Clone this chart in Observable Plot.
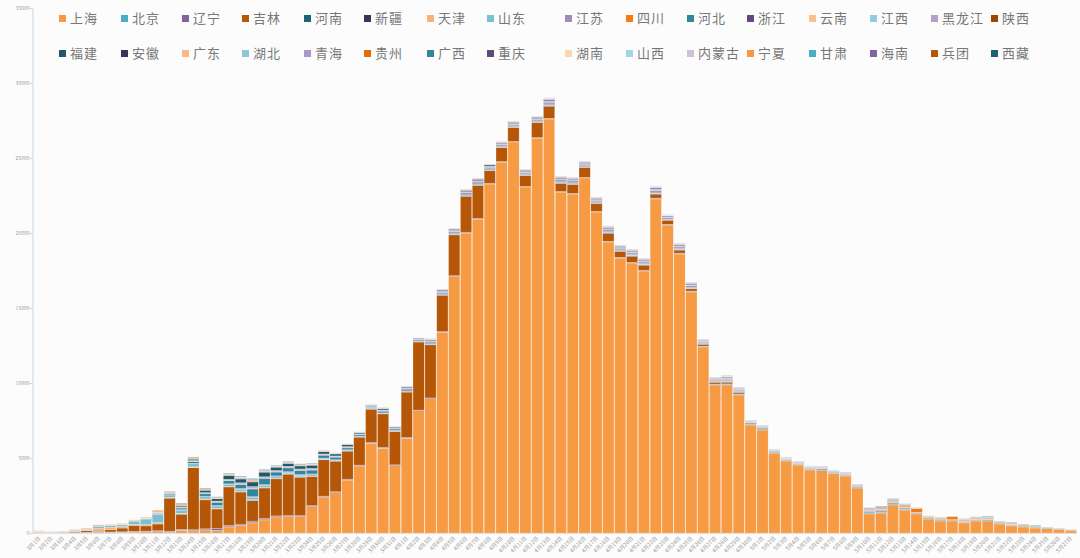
<!DOCTYPE html>
<html><head><meta charset="utf-8">
<script src="https://cdn.jsdelivr.net/npm/d3@7"></script>
<script src="https://cdn.jsdelivr.net/npm/@observablehq/plot@0.6"></script>
<style>
body{margin:0;background:#fcfcfc;}
#wrap{position:relative;width:1080px;height:558px;overflow:hidden;}
#legend{position:absolute;left:0;top:0;width:1080px;height:70px;font-family:"Noto Sans CJK SC",sans-serif;font-size:13px;color:#777;}
.item{position:absolute;display:flex;align-items:center;white-space:nowrap;height:18px;line-height:18px;letter-spacing:1px;}
.sw{width:7px;height:7px;margin-right:4px;flex:none;}
</style></head><body><div id="wrap"><div id="chart"></div><div id="legend"></div></div>
<script>
const dates = [
"3月1日","3月2日","3月3日","3月4日","3月5日","3月6日","3月7日","3月8日","3月9日","3月10日",
"3月11日","3月12日","3月13日","3月14日","3月15日","3月16日","3月17日","3月18日","3月19日","3月20日",
"3月21日","3月22日","3月23日","3月24日","3月25日","3月26日","3月27日","3月28日","3月29日","3月30日",
"3月31日","4月1日","4月2日","4月3日","4月4日","4月5日","4月6日","4月7日","4月8日","4月9日",
"4月10日","4月11日","4月12日","4月13日","4月14日","4月15日","4月16日","4月17日","4月18日","4月19日",
"4月20日","4月21日","4月22日","4月23日","4月24日","4月25日","4月26日","4月27日","4月28日","4月29日",
"4月30日","5月1日","5月2日","5月3日","5月4日","5月5日","5月6日","5月7日","5月8日","5月9日",
"5月10日","5月11日","5月12日","5月13日","5月14日","5月15日","5月16日","5月17日","5月18日","5月19日",
"5月20日","5月21日","5月22日","5月23日","5月24日","5月25日","5月26日","5月27日"];

const provinces = ["上海","北京","辽宁","吉林","河南","新疆","天津","山东","江苏","四川","河北","浙江","云南","江西","黑龙江","陕西",
"福建","安徽","广东","湖北","青海","贵州","广西","重庆","湖南","山西","内蒙古","宁夏","甘肃","海南","兵团","西藏"];
const colors = ["#F79A44","#4BACC6","#8064A2","#B65708","#1F6377","#403152","#FAB07B","#78C0D4","#9F8CB8","#F67A12","#31859C","#604A7B","#FAC090","#92CDDC","#B2A2C7","#974806",
"#215968","#3F3151","#FBB885","#8BC8DA","#AC98C8","#E46C0A","#31859C","#5F497A","#FCD5B5","#A5D5E2","#CCC1DA","#F79646","#4BACC6","#8064A2","#B65708","#1F6377"];

const shanghai = [
5,5,5,10,10,20,30,40,60,75,
80,65,170,140,200,160,400,490,670,870,
1070,1090,1090,1750,2400,2690,3530,4470,5980,5650,
4490,6310,8150,8950,13380,17100,20000,20930,23270,24730,
26070,23070,26330,27600,22730,22600,23670,21400,19400,18330,
18000,17470,22270,20530,18600,16070,12400,9870,9870,9200,
7200,6870,5300,4800,4530,4200,4150,3950,3800,3000,
1270,1330,1870,1530,1270,930,800,800,670,800,
800,600,470,400,330,300,250,180];
const beijing = [
10,5,10,10,20,20,20,20,20,20,
20,20,20,20,20,20,20,20,20,20,
10,10,10,10,10,10,10,10,5,10,
5,5,5,5,5,5,5,5,5,5,
5,5,5,10,10,10,10,10,15,15,
20,20,30,30,30,40,40,40,50,50,
50,60,60,50,50,50,60,50,50,60,
60,60,60,60,30,50,50,50,50,40,
60,40,50,40,40,30,20,20];
const liaoning = [
10,5,10,15,20,20,20,20,25,30,
50,40,60,60,60,120,80,80,100,80,
60,60,70,70,50,50,50,50,50,60,
50,60,40,50,50,50,50,50,40,30,
30,30,30,40,30,30,30,30,30,30,
30,30,30,20,30,20,20,20,20,20,
10,10,10,10,10,10,10,10,10,10,
10,10,10,10,10,0,0,0,10,10,
0,10,10,0,0,0,0,0];
const jilin = [
10,10,20,60,100,60,150,250,400,350,
450,2200,1000,4130,1930,1300,2570,2140,1360,2030,
2470,2760,2550,1930,2420,2040,1870,1860,2220,2220,
2230,3020,4540,3540,2420,2720,2400,2200,860,940,
930,730,1000,800,540,600,660,530,530,400,
400,330,260,270,200,150,100,100,100,80,
50,40,30,20,20,20,10,10,10,10,
10,10,10,10,0,0,0,0,0,0,
0,0,0,0,0,0,0,0];
const henan = [
0,0,0,0,0,0,0,0,0,0,
10,10,20,20,20,20,20,40,40,30,
30,20,20,20,10,10,10,10,10,10,
10,10,5,10,10,10,10,10,10,10,
20,20,20,30,20,20,20,20,30,20,
30,30,30,20,30,30,30,30,40,40,
40,40,40,30,30,40,40,30,30,30,
40,50,50,40,30,30,20,20,20,20,
20,20,20,20,20,10,10,10];
const xinjiang = [
0,0,0,0,0,0,0,0,0,0,
0,0,0,0,0,0,0,0,0,0,
0,0,0,0,0,0,0,0,0,0,
0,0,0,0,0,0,0,0,0,0,
0,0,0,0,0,0,0,0,0,0,
10,10,10,10,10,10,10,10,10,10,
10,10,0,0,0,0,10,10,10,10,
40,40,20,20,10,0,0,0,10,10,
0,0,0,0,0,0,0,0];
const tianjin = [
40,20,30,40,40,180,150,100,60,80,
80,50,50,40,40,30,30,30,30,30,
20,20,20,20,10,10,10,10,10,10,
5,5,5,5,5,5,5,5,5,5,
5,5,5,10,10,10,10,10,10,10,
10,10,10,10,10,10,10,10,20,10,
10,10,10,10,10,10,20,10,20,20,
50,70,80,60,10,20,20,10,20,30,
40,20,30,20,20,10,10,10];
const shandong = [
30,20,20,40,60,120,110,110,200,330,
550,150,200,200,150,150,120,120,150,120,
100,80,80,80,50,40,30,20,20,20,
20,20,20,20,20,20,20,20,20,20,
20,20,20,20,20,20,20,20,20,20,
20,20,20,10,10,10,10,10,10,10,
0,0,0,0,0,0,0,0,0,0,
0,0,0,0,0,0,0,0,0,0,
0,0,0,0,0,0,0,0];
const jiangsu = [
5,5,5,10,10,10,10,10,10,25,
20,20,40,40,40,40,40,50,60,50,
50,50,60,60,50,40,40,30,20,30,
40,50,40,50,60,70,70,70,70,60,
60,60,60,80,70,70,60,60,70,60,
60,60,70,40,60,50,40,40,50,40,
20,20,20,20,20,20,20,20,20,20,
20,20,20,20,10,10,10,10,10,10,
20,10,10,10,10,0,0,0];
const sichuan = [
0,0,0,0,0,0,0,0,0,0,
0,0,0,0,0,0,0,0,0,0,
0,0,0,0,0,0,0,0,0,0,
0,0,0,0,0,0,0,0,0,0,
0,0,0,0,0,0,0,0,0,0,
0,0,0,0,0,0,0,0,0,0,
10,10,10,10,10,10,10,10,20,10,
20,20,40,100,250,30,60,200,60,60,
50,30,50,40,30,10,10,10];
const hebei = [
5,0,5,10,10,15,10,15,20,40,
30,50,100,100,150,200,200,250,500,400,
250,250,250,250,170,150,120,80,60,100,
80,80,60,70,60,60,60,60,50,40,
40,40,40,50,40,40,30,30,30,30,
20,20,30,20,20,20,10,10,10,10,
0,0,0,0,0,0,0,0,0,0,
10,20,20,20,10,10,10,10,20,10,
30,20,20,20,20,10,0,10];
const zhejiang = [
0,0,0,0,0,0,0,0,0,0,
10,10,20,20,20,20,20,30,40,30,
30,30,40,40,30,30,30,20,15,30,
30,40,30,40,40,40,50,50,50,50,
50,50,50,70,60,60,60,60,60,60,
60,60,70,50,60,60,50,50,60,50,
30,30,30,30,30,20,30,20,20,20,
30,30,20,20,10,10,10,10,10,10,
0,0,0,0,0,0,0,0];
const yunnan = [
0,0,0,0,0,0,0,0,0,0,
0,5,0,0,0,10,10,20,20,10,
10,10,10,10,10,10,10,10,10,10,
0,0,0,0,0,0,0,0,0,0,
0,0,0,0,0,0,0,0,0,0,
10,10,10,10,10,10,10,10,10,10,
0,0,0,0,0,0,0,0,0,0,
0,0,0,0,0,0,0,0,0,0,
0,0,0,0,0,0,0,0];
const jiangxi = [
0,0,0,0,0,0,0,0,0,0,
0,0,0,0,0,0,0,0,0,0,
0,0,0,0,0,0,0,0,0,0,
5,10,5,15,20,20,20,20,20,20,
20,20,20,30,30,30,20,20,30,20,
30,30,30,20,30,30,20,20,30,20,
20,20,10,10,10,10,20,10,10,10,
0,0,0,0,0,0,0,0,0,0,
0,0,0,0,0,0,0,0];
const heilongjiang = [
5,5,5,10,15,20,15,20,20,30,
40,40,50,50,50,50,60,60,80,60,
60,60,60,60,50,50,50,40,40,50,
40,50,40,50,50,50,50,50,50,40,
50,50,50,60,60,60,50,50,60,50,
50,50,60,40,50,50,40,40,50,40,
20,20,20,20,20,20,20,20,20,20,
40,40,30,20,10,10,10,10,20,20,
30,20,30,20,30,10,10,10];
const shaanxi = [
0,0,0,0,0,0,0,0,0,0,
10,10,20,20,20,10,10,20,30,20,
10,10,10,10,10,10,10,5,5,5,
0,0,0,0,0,0,0,0,0,0,
0,0,0,0,0,0,0,0,0,0,
0,0,0,0,0,0,0,0,0,0,
0,0,0,0,0,0,0,0,0,0,
0,0,0,0,0,0,0,0,0,0,
0,0,0,0,0,0,0,0];
const fujian = [
0,0,0,0,0,0,0,0,0,0,
20,30,80,80,150,150,250,250,300,300,
200,180,200,200,150,130,120,80,60,80,
50,50,30,40,30,30,30,30,20,20,
20,20,20,20,20,20,20,20,20,20,
20,20,20,10,10,10,10,10,10,10,
0,0,0,0,0,0,0,0,0,0,
0,0,0,0,0,0,0,0,0,0,
0,0,0,0,0,0,0,0];
const anhui = [
0,0,0,0,0,0,0,0,0,0,
0,5,10,10,10,10,20,30,40,30,
30,20,20,20,10,10,10,5,5,15,
20,30,20,40,50,70,70,80,70,60,
60,60,60,70,60,60,50,50,60,50,
50,50,60,40,50,50,40,40,50,40,
20,20,20,20,20,20,20,10,10,10,
30,30,20,10,10,10,10,0,10,10,
0,0,0,0,0,0,0,0];
const guangdong = [
30,15,20,40,50,80,60,50,60,70,
150,80,120,100,100,80,80,80,100,80,
60,60,60,60,40,40,30,30,20,30,
30,30,20,30,30,30,30,30,20,20,
20,20,20,20,20,20,20,20,20,20,
20,20,20,20,20,20,20,20,20,20,
10,10,10,10,10,10,10,10,10,10,
10,10,10,10,10,10,10,10,20,10,
20,10,20,10,10,10,10,10];
const hubei = [
0,0,0,0,0,0,0,0,0,0,
0,5,10,10,10,10,10,30,30,20,
10,10,10,10,10,10,10,10,10,10,
0,0,0,0,0,0,0,0,0,0,
0,0,0,0,0,0,0,0,0,0,
0,0,0,0,0,0,0,0,0,0,
0,0,0,0,0,0,0,0,0,0,
0,0,0,0,0,0,0,0,0,0,
0,0,0,0,0,0,0,0];
const qinghai = [
0,0,0,0,0,0,0,0,0,0,
0,0,0,0,0,0,0,0,0,0,
0,0,0,0,0,0,0,0,0,0,
5,10,5,10,10,10,15,15,15,15,
20,20,20,30,20,20,20,20,20,20,
20,20,20,10,20,20,10,10,20,10,
0,0,0,0,0,0,0,0,0,0,
0,0,0,0,0,0,0,0,0,0,
0,0,0,0,0,0,0,0];
const guizhou = [
0,0,0,0,0,0,0,0,0,0,
0,0,0,0,0,0,0,0,0,0,
0,0,0,0,0,0,0,0,0,0,
0,0,0,0,0,0,0,0,0,0,
0,0,0,0,0,0,0,0,0,0,
0,0,0,0,0,0,0,0,0,0,
0,0,0,0,0,0,0,0,0,0,
0,0,0,0,0,20,20,0,20,20,
20,0,0,0,0,0,0,0];
const guangxi = [
0,0,0,0,0,0,0,0,0,0,
10,10,30,30,30,30,40,50,60,50,
40,40,40,40,20,20,10,10,10,10,
0,0,0,0,0,0,0,0,0,0,
0,0,0,0,0,0,0,0,0,0,
0,0,0,0,0,0,0,0,0,0,
0,0,0,0,0,0,0,0,0,0,
10,20,20,20,10,10,10,0,10,10,
30,20,20,20,20,10,10,0];
const chongqing = [
0,0,0,0,0,0,0,0,0,0,
0,0,0,0,0,0,0,0,0,0,
0,0,0,0,0,0,0,0,0,0,
0,0,0,0,0,0,0,0,0,0,
0,0,0,10,10,10,10,10,15,5,
10,10,10,10,10,10,10,10,10,10,
10,10,10,10,10,10,10,10,10,10,
30,30,20,10,10,0,10,0,10,10,
0,0,0,0,0,0,0,0];
const hunan = [
0,0,0,0,0,0,0,0,0,0,
0,0,0,0,0,0,0,0,0,0,
0,0,0,0,0,0,0,0,0,0,
0,0,0,0,0,0,0,0,0,0,
5,5,5,10,10,10,10,10,10,10,
10,10,10,10,20,10,10,10,20,10,
10,10,10,10,10,10,10,0,0,0,
0,0,0,0,0,0,0,0,0,0,
0,0,0,0,0,0,0,0];
const shanxi = [
0,0,0,0,0,0,0,0,0,0,
0,0,0,0,0,0,0,0,0,0,
0,0,0,0,0,0,0,0,0,0,
0,0,0,0,0,0,0,0,0,0,
5,5,5,10,10,10,10,10,10,10,
10,10,10,10,20,10,10,10,20,10,
0,0,0,0,0,0,0,0,0,0,
0,0,0,0,0,0,0,0,0,0,
0,0,0,0,0,0,0,0];
const neimenggu = [
0,0,0,0,0,0,0,0,0,0,
0,0,0,0,0,0,0,0,0,0,
0,0,0,0,0,0,0,0,0,0,
5,10,0,10,10,0,15,15,10,0,
10,10,10,20,10,10,10,10,20,10,
20,20,20,20,20,20,20,20,30,20,
10,10,10,10,10,10,10,10,10,10,
10,10,10,10,10,10,10,0,10,10,
0,0,0,0,0,0,0,0];
const ningxia = [
0,0,0,0,0,0,0,0,0,0,
0,0,0,0,0,0,0,0,0,0,
0,0,0,0,0,0,0,0,0,0,
0,0,0,0,0,0,0,0,0,5,
5,5,5,5,5,0,0,0,0,0,
0,0,0,0,0,0,0,0,0,0,
0,0,0,0,0,0,0,0,0,0,
0,0,0,0,0,0,0,0,0,0,
0,0,0,0,0,0,0,0];
const gansu = [
0,0,0,0,0,0,0,0,0,0,
0,0,0,0,0,0,0,10,10,10,
10,10,10,10,0,0,0,0,0,0,
0,0,0,0,0,0,0,0,0,0,
0,0,0,0,0,0,0,0,0,0,
0,0,0,0,0,0,0,0,0,0,
0,0,0,0,0,0,0,0,0,0,
0,0,0,0,0,0,0,0,0,0,
0,0,0,0,0,0,0,0];
const hainan = [
0,0,0,0,0,0,0,0,0,0,
0,0,0,0,0,0,0,0,0,0,
0,0,0,0,0,0,0,0,0,0,
5,10,5,10,10,10,10,10,10,10,
10,10,10,10,10,10,10,10,10,10,
10,10,10,10,10,10,10,10,10,10,
0,0,0,0,0,0,0,0,0,0,
0,0,0,0,0,0,0,0,0,0,
0,0,0,0,0,0,0,0];
const bingtuan = [
0,0,0,0,0,0,0,0,0,0,
0,0,0,0,0,0,0,0,0,0,
0,0,0,0,5,5,5,5,0,0,
0,0,0,0,0,0,0,0,0,0,
0,0,0,0,0,0,0,0,0,0,
0,0,0,0,0,0,0,0,0,0,
0,0,0,0,0,0,0,0,0,0,
0,0,0,0,0,0,0,0,0,0,
0,0,0,0,0,0,0,0];
const xizang = [
0,0,0,0,0,0,0,0,0,0,
0,0,0,0,0,0,0,0,0,0,
0,0,0,0,0,0,0,0,0,0,
0,0,0,0,0,0,0,0,0,0,
0,0,0,0,0,0,0,0,0,0,
0,0,0,0,0,0,0,0,0,0,
0,0,0,0,0,0,0,0,0,0,
0,0,0,0,0,0,0,0,0,0,
0,0,0,0,0,0,0,0];

const yTicks = [0,5000,10000,15000,20000,25000,30000,35000];

const series = [shanghai,beijing,liaoning,jilin,henan,xinjiang,tianjin,shandong,jiangsu,sichuan,hebei,zhejiang,yunnan,jiangxi,heilongjiang,shaanxi,
fujian,anhui,guangdong,hubei,qinghai,guizhou,guangxi,chongqing,hunan,shanxi,neimenggu,ningxia,gansu,hainan,bingtuan,xizang];

const data = [];
dates.forEach((d, i) => {
  provinces.forEach((p, k) => {
    const v = series[k][i];
    if (v > 0) data.push({date: d, province: p, value: v});
  });
});

const W = 1080, H = 558, ML = 33, MR = 3, MT = 8, MB = 25;
const chart = Plot.plot({
  width: W, height: H,
  marginLeft: ML, marginRight: MR, marginTop: MT, marginBottom: MB,
  style: {background: "transparent", color: "#9a9a9a", fontFamily: "'Noto Sans CJK SC', sans-serif"},
  x: {domain: dates, padding: 0.05, axis: null, label: null},
  y: {domain: [0, 35000], axis: null, label: null},
  color: {domain: provinces, range: colors},
  marks: [
    Plot.ruleY([0], {stroke: "#dcdcdc"}),
    Plot.barY(data, Plot.stackY({order: null}, {x: "date", y: "value", fill: "province", stroke: "#ffffff", strokeWidth: 0.5, strokeOpacity: 0.45})),
    Plot.axisX({tickRotate: -45, fontSize: 5.5, tickSize: 0, tickPadding: 4, fill: "#9a9a9a", label: null}),
    Plot.axisY({ticks: yTicks, tickFormat: d => String(d), fontSize: 5, tickSize: 3, tickPadding: 1, stroke: "#c5d8ea", fill: "#9a9a9a", label: null})
  ]
});
const ys = chart.scale("y");
d3.select(chart).append("line")
  .attr("x1", ML).attr("x2", ML)
  .attr("y1", ys.apply(35000)).attr("y2", ys.apply(0))
  .attr("stroke", "#c5d8ea").attr("stroke-width", 1);
document.getElementById("chart").appendChild(chart);

// legend (layout positions)
const colX = [59,121,182,242,304,364,427,487,565,626,687,747,809,870,931,991];
const rowY = [18, 53];
const legend = document.getElementById("legend");
provinces.forEach((p, k) => {
  const it = document.createElement("div");
  it.className = "item";
  it.style.left = colX[k % 16] + "px";
  it.style.top = (rowY[Math.floor(k / 16)] - 9) + "px";
  const sw = document.createElement("span");
  sw.className = "sw";
  sw.style.background = colors[k];
  const tx = document.createElement("span");
  tx.textContent = p;
  it.appendChild(sw); it.appendChild(tx);
  legend.appendChild(it);
});
</script></body></html>
